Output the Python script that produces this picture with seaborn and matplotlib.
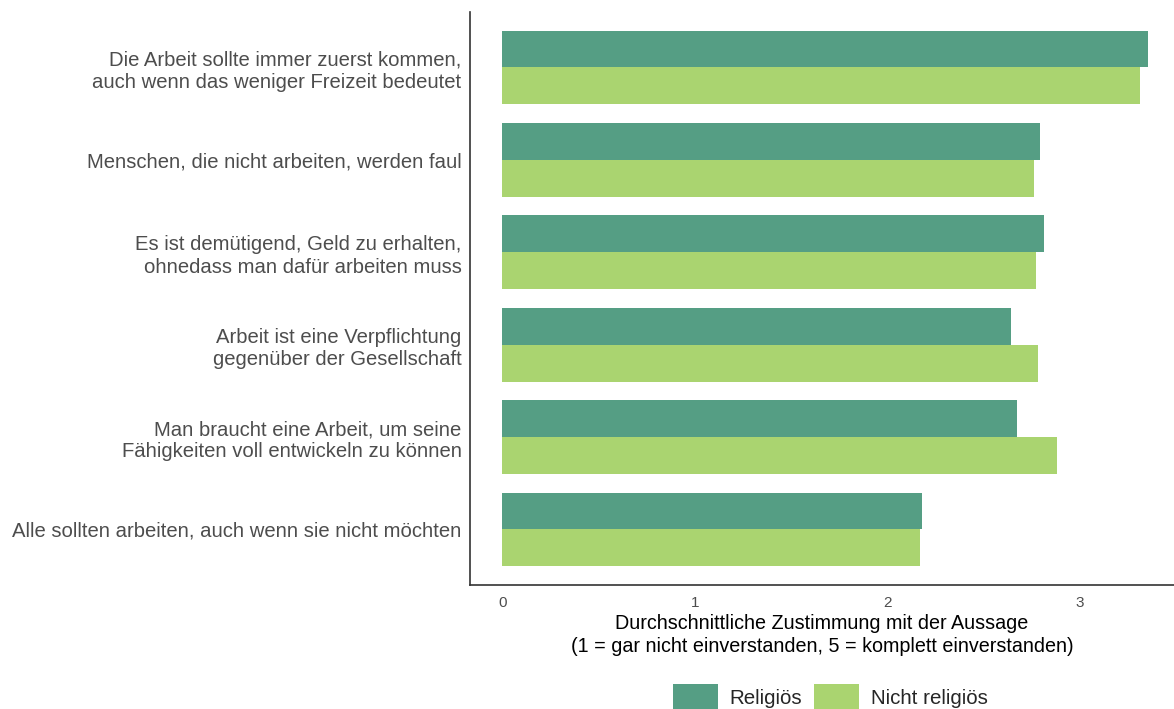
import matplotlib
matplotlib.use("Agg")
import matplotlib.pyplot as plt
import seaborn as sns
import pandas as pd
from matplotlib.patches import Patch

statements = [
    "Die Arbeit sollte immer zuerst kommen,\nauch wenn das weniger Freizeit bedeutet",
    "Menschen, die nicht arbeiten, werden faul",
    "Es ist demütigend, Geld zu erhalten,\nohnedass man dafür arbeiten muss",
    "Arbeit ist eine Verpflichtung\ngegenüber der Gesellschaft",
    "Man braucht eine Arbeit, um seine\nFähigkeiten voll entwickeln zu können",
    "Alle sollten arbeiten, auch wenn sie nicht möchten",
]
groups = ["Religiös", "Nicht religiös"]
religioes = [3.35, 2.79, 2.81, 2.64, 2.67, 2.18]
nicht_religioes = [3.31, 2.76, 2.77, 2.78, 2.88, 2.17]
x_ticks = [0, 1, 2, 3]
x_label = "Durchschnittliche Zustimmung mit der Aussage\n(1 = gar nicht einverstanden, 5 = komplett einverstanden)"
colors = ["#559E84", "#AAD470"]

df = pd.DataFrame({
    "Aussage": statements * 2,
    "Gruppe": [groups[0]] * len(statements) + [groups[1]] * len(statements),
    "Wert": religioes + nicht_religioes,
})

sns.set_theme(style="white")
plt.rcParams["font.family"] = ["Liberation Sans", "DejaVu Sans"]

fig = plt.figure(figsize=(11.74, 7.09), dpi=100)
ax = fig.add_axes([0.4003, 0.175, 0.5997, 0.808])

sns.barplot(data=df, y="Aussage", x="Wert", hue="Gruppe", order=statements,
            hue_order=groups, palette=colors, orient="h", width=0.8,
            saturation=1, ax=ax, legend=False, linewidth=0)

ax.set_xlim(-0.167, 3.487)
ax.set_ylim(len(statements) - 0.4, -0.6)
ax.set_xticks(x_ticks)
ax.set_xticklabels([str(t) for t in x_ticks], fontsize=11, color="#4D4D4D")
ax.tick_params(axis="x", length=0, pad=8)
ax.tick_params(axis="y", length=0, pad=6, labelsize=14.6, labelcolor="#4D4D4D")
ax.set_ylabel("")
ax.set_xlabel(x_label, fontsize=14.2, color="black", labelpad=3, linespacing=1.27)
for lbl in ax.get_yticklabels():
    lbl.set_horizontalalignment("right")
    lbl.set_linespacing(1.22)

for side in ["top", "right"]:
    ax.spines[side].set_visible(False)
for side in ["left", "bottom"]:
    ax.spines[side].set_color("#333333")
    ax.spines[side].set_linewidth(1.2)

handles = [Patch(facecolor=c, edgecolor="none", label=g) for c, g in zip(colors, groups)]
fig.legend(handles=handles, loc="center", bbox_to_anchor=(0.707, 0.017), ncol=2,
           frameon=False, fontsize=14.8, handlelength=2.2, handleheight=1.6,
           handletextpad=0.55, columnspacing=0.6)

fig.savefig("out.png", dpi=100, facecolor="white")
